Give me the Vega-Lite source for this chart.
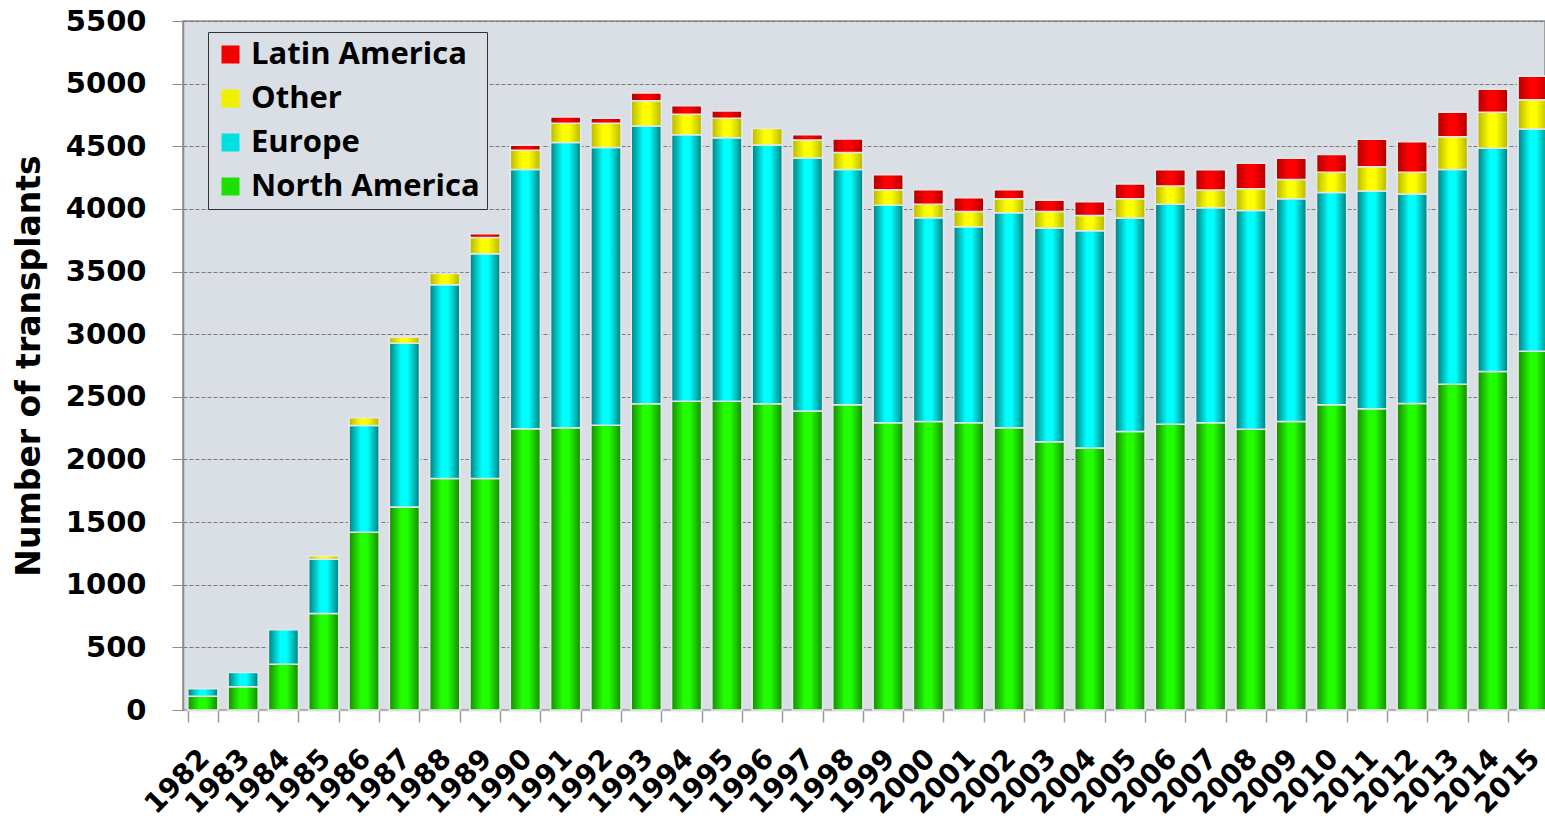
{
  "$schema": "https://vega.github.io/schema/vega-lite/v6.json",
  "width": 1362,
  "height": 689,
  "autosize": {"type": "none"},
  "padding": {"left": 183, "top": 21, "right": 0, "bottom": 111},
  "background": "white",
  "config": {"view": {"fill": "#d9dfe5", "stroke": "#8c8c8c", "strokeWidth": 1.5}},
  "data": {"values": [
    {"year": "1982", "region": "North America", "n": 110},
    {"year": "1982", "region": "Europe", "n": 60},
    {"year": "1983", "region": "North America", "n": 185},
    {"year": "1983", "region": "Europe", "n": 115},
    {"year": "1984", "region": "North America", "n": 365},
    {"year": "1984", "region": "Europe", "n": 275},
    {"year": "1985", "region": "North America", "n": 770},
    {"year": "1985", "region": "Europe", "n": 433},
    {"year": "1985", "region": "Other", "n": 27},
    {"year": "1986", "region": "North America", "n": 1419},
    {"year": "1986", "region": "Europe", "n": 852},
    {"year": "1986", "region": "Other", "n": 62},
    {"year": "1987", "region": "North America", "n": 1620},
    {"year": "1987", "region": "Europe", "n": 1308},
    {"year": "1987", "region": "Other", "n": 47},
    {"year": "1988", "region": "North America", "n": 1847},
    {"year": "1988", "region": "Europe", "n": 1548},
    {"year": "1988", "region": "Other", "n": 90},
    {"year": "1989", "region": "North America", "n": 1847},
    {"year": "1989", "region": "Europe", "n": 1795},
    {"year": "1989", "region": "Other", "n": 130},
    {"year": "1989", "region": "Latin America", "n": 30},
    {"year": "1990", "region": "North America", "n": 2245},
    {"year": "1990", "region": "Europe", "n": 2069},
    {"year": "1990", "region": "Other", "n": 155},
    {"year": "1990", "region": "Latin America", "n": 39},
    {"year": "1991", "region": "North America", "n": 2253},
    {"year": "1991", "region": "Europe", "n": 2277},
    {"year": "1991", "region": "Other", "n": 154},
    {"year": "1991", "region": "Latin America", "n": 50},
    {"year": "1992", "region": "North America", "n": 2274},
    {"year": "1992", "region": "Europe", "n": 2216},
    {"year": "1992", "region": "Other", "n": 194},
    {"year": "1992", "region": "Latin America", "n": 40},
    {"year": "1993", "region": "North America", "n": 2444},
    {"year": "1993", "region": "Europe", "n": 2218},
    {"year": "1993", "region": "Other", "n": 202},
    {"year": "1993", "region": "Latin America", "n": 61},
    {"year": "1994", "region": "North America", "n": 2465},
    {"year": "1994", "region": "Europe", "n": 2126},
    {"year": "1994", "region": "Other", "n": 165},
    {"year": "1994", "region": "Latin America", "n": 68},
    {"year": "1995", "region": "North America", "n": 2465},
    {"year": "1995", "region": "Europe", "n": 2104},
    {"year": "1995", "region": "Other", "n": 155},
    {"year": "1995", "region": "Latin America", "n": 58},
    {"year": "1996", "region": "North America", "n": 2444},
    {"year": "1996", "region": "Europe", "n": 2067},
    {"year": "1996", "region": "Other", "n": 130},
    {"year": "1997", "region": "North America", "n": 2386},
    {"year": "1997", "region": "Europe", "n": 2021},
    {"year": "1997", "region": "Other", "n": 144},
    {"year": "1997", "region": "Latin America", "n": 40},
    {"year": "1998", "region": "North America", "n": 2436},
    {"year": "1998", "region": "Europe", "n": 1878},
    {"year": "1998", "region": "Other", "n": 136},
    {"year": "1998", "region": "Latin America", "n": 109},
    {"year": "1999", "region": "North America", "n": 2293},
    {"year": "1999", "region": "Europe", "n": 1737},
    {"year": "1999", "region": "Other", "n": 122},
    {"year": "1999", "region": "Latin America", "n": 120},
    {"year": "2000", "region": "North America", "n": 2303},
    {"year": "2000", "region": "Europe", "n": 1626},
    {"year": "2000", "region": "Other", "n": 109},
    {"year": "2000", "region": "Latin America", "n": 114},
    {"year": "2001", "region": "North America", "n": 2293},
    {"year": "2001", "region": "Europe", "n": 1564},
    {"year": "2001", "region": "Other", "n": 123},
    {"year": "2001", "region": "Latin America", "n": 109},
    {"year": "2002", "region": "North America", "n": 2253},
    {"year": "2002", "region": "Europe", "n": 1716},
    {"year": "2002", "region": "Other", "n": 112},
    {"year": "2002", "region": "Latin America", "n": 71},
    {"year": "2003", "region": "North America", "n": 2141},
    {"year": "2003", "region": "Europe", "n": 1706},
    {"year": "2003", "region": "Other", "n": 133},
    {"year": "2003", "region": "Latin America", "n": 90},
    {"year": "2004", "region": "North America", "n": 2091},
    {"year": "2004", "region": "Europe", "n": 1735},
    {"year": "2004", "region": "Other", "n": 122},
    {"year": "2004", "region": "Latin America", "n": 109},
    {"year": "2005", "region": "North America", "n": 2224},
    {"year": "2005", "region": "Europe", "n": 1703},
    {"year": "2005", "region": "Other", "n": 154},
    {"year": "2005", "region": "Latin America", "n": 117},
    {"year": "2006", "region": "North America", "n": 2282},
    {"year": "2006", "region": "Europe", "n": 1756},
    {"year": "2006", "region": "Other", "n": 144},
    {"year": "2006", "region": "Latin America", "n": 130},
    {"year": "2007", "region": "North America", "n": 2293},
    {"year": "2007", "region": "Europe", "n": 1716},
    {"year": "2007", "region": "Other", "n": 141},
    {"year": "2007", "region": "Latin America", "n": 162},
    {"year": "2008", "region": "North America", "n": 2242},
    {"year": "2008", "region": "Europe", "n": 1746},
    {"year": "2008", "region": "Other", "n": 172},
    {"year": "2008", "region": "Latin America", "n": 205},
    {"year": "2009", "region": "North America", "n": 2303},
    {"year": "2009", "region": "Europe", "n": 1778},
    {"year": "2009", "region": "Other", "n": 154},
    {"year": "2009", "region": "Latin America", "n": 170},
    {"year": "2010", "region": "North America", "n": 2436},
    {"year": "2010", "region": "Europe", "n": 1695},
    {"year": "2010", "region": "Other", "n": 162},
    {"year": "2010", "region": "Latin America", "n": 141},
    {"year": "2011", "region": "North America", "n": 2405},
    {"year": "2011", "region": "Europe", "n": 1737},
    {"year": "2011", "region": "Other", "n": 194},
    {"year": "2011", "region": "Latin America", "n": 220},
    {"year": "2012", "region": "North America", "n": 2447},
    {"year": "2012", "region": "Europe", "n": 1673},
    {"year": "2012", "region": "Other", "n": 173},
    {"year": "2012", "region": "Latin America", "n": 244},
    {"year": "2013", "region": "North America", "n": 2601},
    {"year": "2013", "region": "Europe", "n": 1713},
    {"year": "2013", "region": "Other", "n": 263},
    {"year": "2013", "region": "Latin America", "n": 194},
    {"year": "2014", "region": "North America", "n": 2702},
    {"year": "2014", "region": "Europe", "n": 1782},
    {"year": "2014", "region": "Other", "n": 287},
    {"year": "2014", "region": "Latin America", "n": 184},
    {"year": "2015", "region": "North America", "n": 2864},
    {"year": "2015", "region": "Europe", "n": 1774},
    {"year": "2015", "region": "Other", "n": 234},
    {"year": "2015", "region": "Latin America", "n": 186}
  ]},
  "transform": [
    {"calculate": "indexof(['North America', 'Europe', 'Other', 'Latin America'], datum.region)", "as": "ord"},
    {"stack": "n", "groupby": ["year"], "sort": [{"field": "ord", "order": "ascending"}], "as": ["y0", "y1"]}
  ],
  "encoding": {
    "x": {
      "field": "year", "type": "ordinal",
      "scale": {"range": [0, 1370], "paddingInner": 0.255, "paddingOuter": 0.12},
      "axis": {
        "title": null, "labelAngle": -45, "labelAlign": "right", "labelBaseline": "middle",
        "labelFont": "DejaVu Sans", "labelFontWeight": "bold", "labelFontSize": 28, "labelColor": "black",
        "labelPadding": 32, "labelOffset": 2, "tickBand": "extent", "tickSize": 12, "tickColor": "#999999", "tickWidth": 1.5,
        "domainColor": "#bbbbbb", "domainWidth": 1.5, "labelOverlap": false, "labelBound": false
      }
    },
    "y": {
      "field": "y0", "type": "quantitative",
      "scale": {"domain": [0, 5500], "nice": false},
      "axis": {
        "title": "Number of transplants", "titleFont": "DejaVu Sans", "titleFontSize": 33, "titleFontWeight": "bold",
        "titleColor": "black", "titlePadding": 19, "format": "d",
        "values": [0, 500, 1000, 1500, 2000, 2500, 3000, 3500, 4000, 4500, 5000, 5500],
        "labelFont": "DejaVu Sans", "labelFontWeight": "bold", "labelFontSize": 29, "labelColor": "black",
        "labelPadding": 26, "tickSize": 11, "tickColor": "#8c8c8c", "domainColor": "#8c8c8c", "domainWidth": 1.5,
        "gridColor": "#7a7a7a", "gridDash": [4, 2], "gridWidth": 1, "labelOverlap": false, "labelBound": false
      }
    },
    "y2": {"field": "y1"}
  },
  "layer": [
    {
      "mark": {"type": "bar", "stroke": "#e4e7ea", "strokeWidth": 1.5},
      "encoding": {
        "color": {
          "field": "region", "type": "nominal",
          "scale": {
            "domain": ["Latin America", "Other", "Europe", "North America"],
            "range": ["#ee0000", "#f0f000", "#00e0e0", "#1ee000"]
          },
          "legend": {
            "title": null, "orient": "none", "legendX": 25, "legendY": 11,
            "strokeColor": "#333333", "fillColor": "#d9dfe5", "padding": 7,
            "symbolType": "square", "symbolSize": 324, "symbolStrokeWidth": 0, "symbolOffset": 0,
            "labelFont": "Open Sans", "labelFontSize": 31, "labelFontWeight": "bold", "labelColor": "black",
            "labelOffset": 5, "rowPadding": 12, "labelLimit": 400
          }
        }
      }
    },
    {
      "mark": {"type": "bar", "stroke": "#e4e7ea", "strokeWidth": 1.5},
      "encoding": {
        "fill": {
          "condition": [
            {"test": "datum.region === 'Latin America'", "value": {"gradient": "linear", "x1": 0, "y1": 0, "x2": 1, "y2": 0, "stops": [{"offset": 0, "color": "#b00000"}, {"offset": 0.4, "color": "#ff0000"}, {"offset": 0.6, "color": "#ff0000"}, {"offset": 1, "color": "#b00000"}]}},
            {"test": "datum.region === 'Other'", "value": {"gradient": "linear", "x1": 0, "y1": 0, "x2": 1, "y2": 0, "stops": [{"offset": 0, "color": "#b8b800"}, {"offset": 0.4, "color": "#ffff00"}, {"offset": 0.6, "color": "#ffff00"}, {"offset": 1, "color": "#b8b800"}]}},
            {"test": "datum.region === 'Europe'", "value": {"gradient": "linear", "x1": 0, "y1": 0, "x2": 1, "y2": 0, "stops": [{"offset": 0, "color": "#007f80"}, {"offset": 0.4, "color": "#00ffff"}, {"offset": 0.6, "color": "#00ffff"}, {"offset": 1, "color": "#007f80"}]}}
          ],
          "value": {"gradient": "linear", "x1": 0, "y1": 0, "x2": 1, "y2": 0, "stops": [{"offset": 0, "color": "#168a00"}, {"offset": 0.4, "color": "#22ff00"}, {"offset": 0.6, "color": "#22ff00"}, {"offset": 1, "color": "#168a00"}]}
        }
      }
    }
  ]
}
